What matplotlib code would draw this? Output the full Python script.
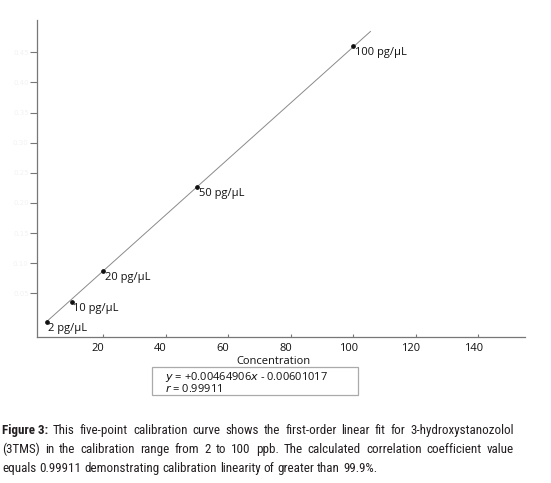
import matplotlib
matplotlib.use("Agg")
import matplotlib.pyplot as plt
import matplotlib.transforms as mtransforms
from matplotlib import font_manager
import numpy as np

# ---- data ----
conc = [2, 10, 20, 50, 100]
response = [0.0030, 0.0355, 0.0875, 0.2264, 0.4600]
point_labels = ["2 pg/\u03bcL", "10 pg/\u03bcL", "20 pg/\u03bcL", "50 pg/\u03bcL", "100 pg/\u03bcL"]
slope = 0.00464906
intercept = -0.00601017
r_value = 0.99911
fit_range = [2, 105.5]
xticks = [20, 40, 60, 80, 100, 120, 140]
yticks = [0.05, 0.10, 0.15, 0.20, 0.25, 0.30, 0.35, 0.40, 0.45]
caption_lines = [
    "This five-point calibration curve shows the first-order linear fit for 3-hydroxystanozolol",
    "(3TMS) in the calibration range from 2 to 100 ppb. The calculated correlation coefficient value",
    "equals 0.99911 demonstrating calibration linearity of greater than 99.9%.",
]
caption_bold = "Figure 3:"

plot_font = "Open Sans"
available = {f.name for f in font_manager.fontManager.ttflist}
cap_font = "Roboto"
for cand in ["Liberation Sans Narrow", "Roboto Condensed", "Open Sans Condensed",
             "Noto Sans Condensed", "DejaVu Sans Condensed", "Roboto"]:
    if cand in available:
        cap_font = cand
        break

W, H = 551, 483
fig = plt.figure(figsize=(W / 100, H / 100), dpi=100)
ax = fig.add_axes([37 / W, 1 - 336.5 / H, (525 - 37) / W, (336.5 - 20) / H])
ax.set_xlim(-1.1, 154.9)
ax.set_ylim(-0.0215, 0.5035)

for s in ["top", "right"]:
    ax.spines[s].set_visible(False)
for s in ["left", "bottom"]:
    ax.spines[s].set_color("#777777")
    ax.spines[s].set_linewidth(0.9)

# fit line
fx = np.array(fit_range)
ax.plot(fx, slope * fx + intercept, color="#8a8a8a", lw=0.7, zorder=2)
ax.plot(conc, response, "o", color="#111111", ms=2.4, zorder=3)
for x, y, lab in zip(conc, response, point_labels):
    ax.annotate(lab, (x, y), xytext=(1.2, -4.6), textcoords="offset points",
                ha="left", va="center", fontsize=8, family=plot_font, color="#111111")

ax.set_xticks(xticks)
ax.set_xticklabels([str(t) for t in xticks])
ax.tick_params(axis="x", direction="in", length=2.5, width=0.8, color="#777777",
               pad=4.5, labelsize=8, labelcolor="#111111")
for lab in ax.get_xticklabels():
    lab.set_family(plot_font)
    lab.set_transform(lab.get_transform() + mtransforms.ScaledTranslation(-5 / 100, 0, fig.dpi_scale_trans))

ax.set_yticks(yticks)
ax.set_yticklabels(["%.2f" % t for t in yticks])
ax.tick_params(axis="y", direction="out", length=5, width=0.8, color="#777777",
               pad=1, labelsize=5, labelcolor="#f2f2f2")

fig.text(273 / W, 1 - 361 / H, "Concentration", ha="center", va="center",
         fontsize=8, family=plot_font, color="#111111")

# equation box
box = plt.Rectangle((152 / W, 1 - 395 / H), (358 - 152) / W, (395 - 367) / H,
                    transform=fig.transFigure, fill=False, ec="#aaaaaa", lw=0.9)
fig.add_artist(box)
fig.text(165 / W, 1 - 379.5 / H, "$y$ = +%.8f$x$ - %.8f" % (slope, -intercept),
         ha="left", va="baseline", fontsize=8.0, family=plot_font, color="#111111",
         math_fontfamily="dejavusans")
fig.text(165 / W, 1 - 391.5 / H, "$r$ = %.5f" % r_value,
         ha="left", va="baseline", fontsize=8.0, family=plot_font, color="#111111")

# justified caption
renderer = fig.canvas.get_renderer()
left_px, right_px = 2, 514
line_base = [434, 453, 472]
cap_color = "#231f20"

def measure(t):
    return t.get_window_extent(renderer=renderer).width

base = 10.0
t = fig.text(0, 0, caption_lines[2], fontsize=base, family=cap_font)
w3 = measure(t)
t.remove()
cap_size = base * 372.0 / w3

for i, (line, ypx) in enumerate(zip(caption_lines, line_base)):
    words = line.split(" ")
    items = []
    if i == 0:
        items.append((caption_bold, "bold"))
    items += [(w, "normal") for w in words]
    texts = []
    for w, wt in items:
        t = fig.text(0, 1 - ypx / H, w, fontsize=cap_size, family=cap_font,
                     weight=wt, color=cap_color, ha="left", va="baseline")
        texts.append(t)
    widths = [measure(t) for t in texts]
    total = sum(widths)
    if i < len(caption_lines) - 1:
        gap = (right_px - left_px - total) / (len(texts) - 1)
    else:
        sp = fig.text(0, 0, "a a", fontsize=cap_size, family=cap_font)
        sp2 = fig.text(0, 0, "aa", fontsize=cap_size, family=cap_font)
        gap = measure(sp) - measure(sp2)
        sp.remove(); sp2.remove()
    x = left_px
    for t, w in zip(texts, widths):
        t.set_x(x / W)
        x += w + gap

fig.savefig("out.png", dpi=100)
